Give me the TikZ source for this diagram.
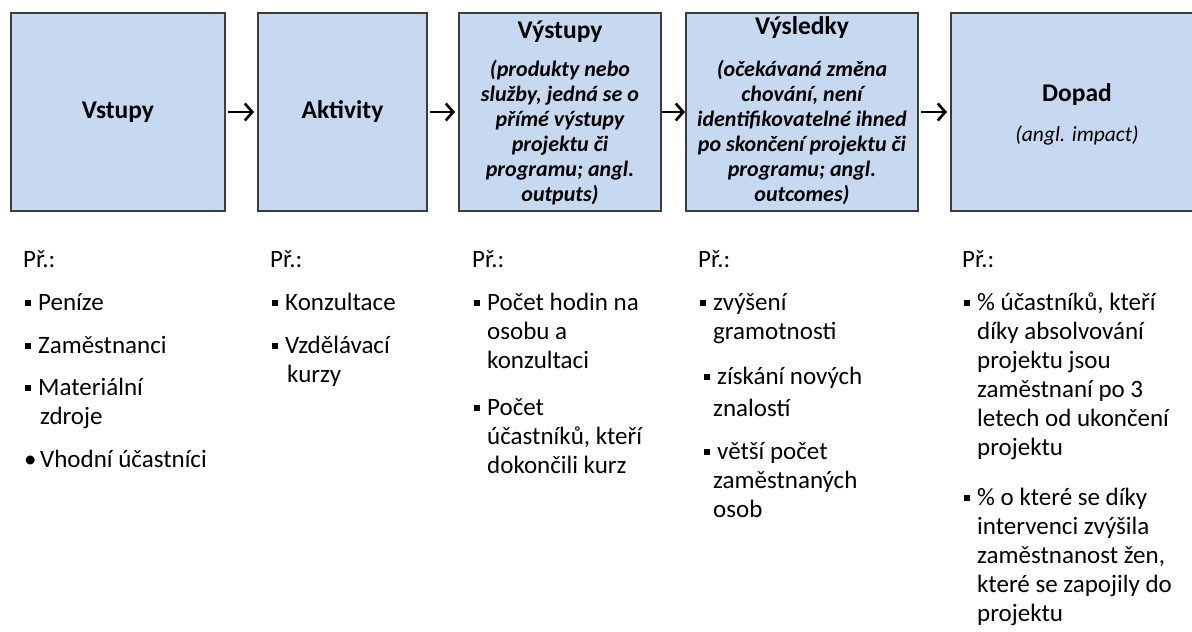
\documentclass[tikz,border=0pt]{standalone}
\usepackage{fontspec}
\setmainfont{Carlito}
\usepackage{xcolor}
\usepackage{tikz}
\usetikzlibrary{arrows.meta}
\definecolor{boxblue}{RGB}{198,217,240}
\definecolor{boxline}{RGB}{60,60,60}
\newcommand{\sqb}{\makebox[15pt][l]{\hspace{2pt}\rule[0.17em]{0.23em}{0.23em}}}
\newcommand{\rdb}{\makebox[17pt][l]{\hspace{1pt}\textbullet}}

\begin{document}
\begin{tikzpicture}[x=1pt,y=-1pt,
		box/.style={draw=boxline,fill=boxblue,line width=1.4pt,minimum height=198,inner sep=0},
		head/.style={font=\bfseries\fontsize{25.5}{29}\selectfont},
		note/.style={font=\bfseries\itshape\fontsize{22}{25}\selectfont,align=center,anchor=north,inner sep=0},
		list/.style={font=\fontsize{25}{29}\selectfont,align=left,anchor=north west,inner sep=0},
		arr/.style={line width=2.6pt,-{Straight Barb[length=7.5pt,width=17pt]}}]
				\clip (0,0) rectangle (1192,632);
				\node[box,minimum width=214] (vstupy) at (118,112) {};
				\node[box,minimum width=169] (aktivity) at (342.5,112) {};
				\node[box,minimum width=202] (vystupy) at (560,112) {};
				\node[box,minimum width=232] (vysledky) at (802,112) {};
				\node[box,minimum width=252] (dopad) at (1077,112) {};

				\draw[arr] ([xshift=2.3pt]vstupy.east) -- ([xshift=-3.3pt]aktivity.west);
				\draw[arr] ([xshift=2.3pt]aktivity.east) -- ([xshift=-3.3pt]vystupy.west);
				\draw[arr] (vystupy.east) -- ([xshift=-0.3pt]vysledky.west);
				\draw[arr] ([xshift=2.3pt]vysledky.east) -- ([xshift=-3.3pt]dopad.west);

				\node[head] (vstupyt) at (vstupy) {Vstupy};
				\node[head] (aktivityt) at (aktivity) {Aktivity};
				\node[head] (vystupyt) at (560,32) {Výstupy};
				\node[note] (vystupyn) at (560,60) {(produkty nebo\\služby, jedná se o\\přímé výstupy\\projektu či\\programu; angl.\\outputs)};
				\node[head] (vysledkyt) at (802,28) {Výsledky};
				\node[note] (vysledkyn) at (802,60) {(očekávaná změna\\chování, není\\identifikovatelné ihned\\po skončení projektu či\\programu; angl.\\outcomes)};
				\node[head] (dopadt) at (1077,95) {Dopad};
				\node[font=\itshape\fontsize{21.5}{25}\selectfont] (dopadn) at (1077,135) {(angl. impact)};

				\node[list] (prvstupy) at (23,250) {Př.:\\[14pt]
					\sqb Peníze\\[14pt]
					\sqb Zaměstnanci\\[13pt]
					\sqb Materiální\\
					\hspace*{17pt}zdroje\\[14pt]
					\rdb Vhodní účastníci};
				\node[list] (praktivity) at (270,250) {Př.:\\[14pt]
					\sqb Konzultace\\[14pt]
					\sqb Vzdělávací\\
					\hspace*{17pt}kurzy};
				\node[list] (prvystupy) at (472,250) {Př.:\\[14pt]
					\sqb Počet hodin na\\
					\hspace*{15pt}osobu a\\
					\hspace*{15pt}konzultaci\\[18pt]
					\sqb Počet\\
					\hspace*{15pt}účastníků, kteří\\
					\hspace*{15pt}dokončili kurz};
				\node[list] (prvysledky) at (698,250) {Př.:\\[14pt]
					\sqb zvýšení\\
					\hspace*{15pt}gramotnosti\\[16pt]
					\hspace*{4pt}\sqb získání nových\\[3pt]
					\hspace*{15pt}znalostí\\[14pt]
					\hspace*{4pt}\sqb větší počet\\
					\hspace*{15pt}zaměstnaných\\
					\hspace*{15pt}osob};
				\node[list] (prdopad) at (962,250) {Př.:\\[14pt]
					\sqb\% účastníků, kteří\\
					\hspace*{15pt}díky absolvování\\
					\hspace*{15pt}projektu jsou\\
					\hspace*{15pt}zaměstnaní po 3\\
					\hspace*{15pt}letech od ukončení\\
					\hspace*{15pt}projektu\\[21pt]
					\sqb\% o které se díky\\
					\hspace*{15pt}intervenci zvýšila\\
					\hspace*{15pt}zaměstnanost žen,\\
					\hspace*{15pt}které se zapojily do\\
					\hspace*{15pt}projektu};
			\end{tikzpicture}
\end{document}
